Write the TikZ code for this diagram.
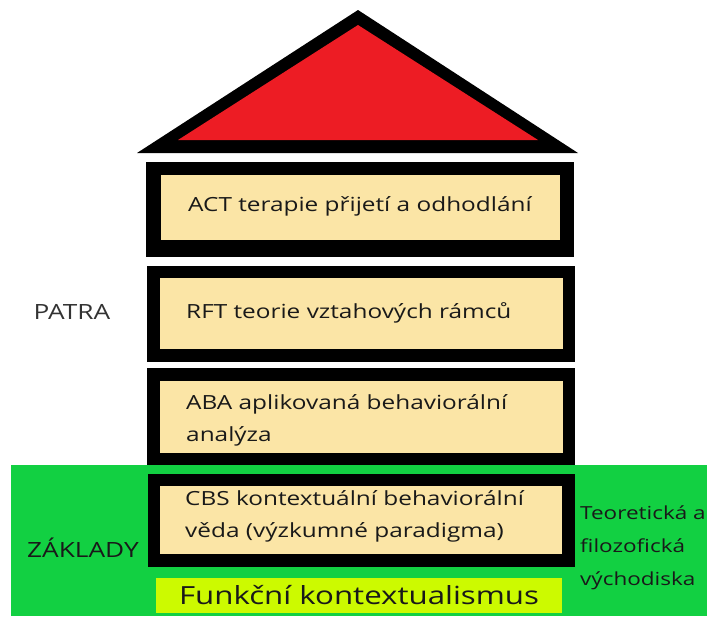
\documentclass[tikz,border=0pt]{standalone}
\usepackage{fontspec}
\setmainfont[FakeStretch=1.25]{Open Sans}
\definecolor{roofred}{RGB}{237,28,36}
\definecolor{beige}{RGB}{251,229,166}
\definecolor{grn}{RGB}{18,208,66}
\definecolor{limey}{RGB}{204,250,0}
\definecolor{ink}{RGB}{25,25,25}
\begin{document}
\begin{tikzpicture}[x=1pt,y=-1pt,
  frame/.style={fill=black,draw=none,inner sep=0pt,outer sep=0pt},
  panel/.style={fill=beige,draw=none,inner sep=0pt,outer sep=0pt},
  lbl/.style={anchor=west,align=left,inner sep=0pt,text=ink,font=\fontsize{19.5}{32}\selectfont},
  side/.style={inner sep=0pt,text=ink,font=\fontsize{21}{33}\selectfont}]
\useasboundingbox (0,0) rectangle (707,616);
% green base
\fill[grn] (11,465) rectangle (707,616);
% roof
\fill[black] (358,10) -- (578,153) -- (137,153) -- cycle;
\fill[roofred] (358,25) -- (538,140) -- (178,140) -- cycle;
% ACT
\node[frame,minimum width=428pt,minimum height=95pt] (actO) at (360,209.5) {};
\node[panel,minimum width=399pt,minimum height=65pt] (actI) at (360.5,207.5) {};
\node[lbl] (actT) at (188,206) {ACT terapie přijetí a odhodlání};
% RFT
\node[frame,minimum width=428pt,minimum height=96pt] (rftO) at (361,314) {};
\node[panel,minimum width=403pt,minimum height=71pt] (rftI) at (361.5,313.5) {};
\node[lbl] (rftT) at (186,313) {RFT teorie vztahových rámců};
% ABA
\node[frame,minimum width=428pt,minimum height=97pt] (abaO) at (361,416.5) {};
\node[panel,minimum width=403pt,minimum height=72pt] (abaI) at (361.5,417) {};
\node[lbl] (abaT) at (186,420) {ABA aplikovaná behaviorální\\analýza};
% CBS
\node[frame,minimum width=427pt,minimum height=93pt] (cbsO) at (361.5,520.5) {};
\node[panel,minimum width=402pt,minimum height=68pt] (cbsI) at (361,520) {};
\node[lbl] (cbsT) at (185,516) {CBS kontextuální behaviorální\\věda (výzkumné paradigma)};
% Funkcni kontextualismus
\node[fill=limey,draw=none,inner sep=0pt,minimum width=406pt,minimum height=35pt,
  text=ink,font=\fontsize{25}{28}\selectfont] (fk) at (359,595.5) {Funkční kontextualismus};
% side labels
\node[side,text=black!80] (patra) at (72,312) {PATRA};
\node[side] (zaklady) at (83,548) {ZÁKLADY};
\node[side,anchor=west,align=left,font=\fontsize{18}{33}\selectfont] (teor) at (580,548) {Teoretická a\\filozofická\\východiska};
\end{tikzpicture}
\end{document}
